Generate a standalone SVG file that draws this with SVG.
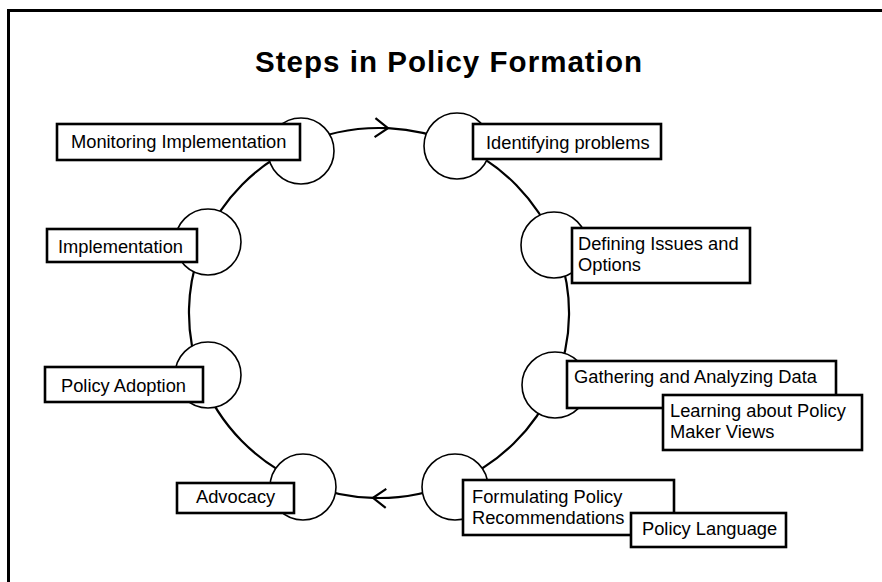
<svg xmlns="http://www.w3.org/2000/svg" width="882" height="582" viewBox="0 0 882 582">
<style>
.frame{fill:none;stroke:#000;stroke-width:3}
.title{font-family:"Liberation Sans",Arial,sans-serif;font-size:29.5px;font-weight:bold;fill:#000}
.arc{fill:none;stroke:#000;stroke-width:2.2}
.ring{fill:#fff;stroke:#000;stroke-width:1.6}
.box{fill:#fff;stroke:#000;stroke-width:2.6}
.lbl{font-family:"Liberation Sans",Arial,sans-serif;font-size:18.3px;fill:#000}
</style>
<defs>
<marker id="chev" markerUnits="userSpaceOnUse" markerWidth="30" markerHeight="30" viewBox="-20 -15 30 30" refX="0" refY="0" orient="auto" overflow="visible">
<path d="M-13,-9.5 L0,0 L-13,9.5" fill="none" stroke="#000" stroke-width="2.2"/>
</marker>
</defs>
<rect width="882" height="582" fill="#fff"/>
<path class="frame" d="M8.5,582 V10.5 H882"/>
<text class="title" x="255" y="71.5" textLength="387" lengthAdjust="spacing">Steps in Policy Formation</text>
<g id="connectors">
<path class="arc" marker-mid="url(#chev)" d="M298.4,145.5 A190,185 0 0 1 388,128.2 A190,185 0 0 1 457.5,144.5"/>
<path class="arc" d="M457.5,144.5 A190,185 0 0 1 555.5,244.4"/>
<path class="arc" d="M555.5,244.4 A190,185 0 0 1 554.2,384.7"/>
<path class="arc" d="M554.2,384.7 A190,185 0 0 1 453.4,483.2"/>
<path class="arc" marker-mid="url(#chev)" d="M453.4,483.2 A190,185 0 0 1 373,497.9 A190,185 0 0 1 304.6,483.2"/>
<path class="arc" d="M304.6,483.2 A190,185 0 0 1 200.9,377.5"/>
<path class="arc" d="M200.9,377.5 A190,185 0 0 1 204.2,240.4"/>
<path class="arc" d="M204.2,240.4 A190,185 0 0 1 298.4,145.5"/>
</g>
<g id="monitoring">
<circle class="ring" cx="301" cy="151" r="33"/>
<rect class="box" x="57" y="124" width="243" height="36"/>
<text class="lbl" x="71" y="148">Monitoring Implementation</text>
</g>
<g id="identifying">
<circle class="ring" cx="457" cy="146" r="33"/>
<rect class="box" x="473" y="124" width="188" height="35"/>
<text class="lbl" x="486" y="149">Identifying problems</text>
</g>
<g id="defining">
<circle class="ring" cx="554" cy="245" r="33"/>
<rect class="box" x="572" y="228" width="178" height="55"/>
<text class="lbl" x="578" y="250">Defining Issues and</text>
<text class="lbl" x="578" y="271">Options</text>
</g>
<g id="gathering">
<circle class="ring" cx="555" cy="385" r="33"/>
<rect class="box" x="567" y="361" width="269" height="47"/>
<text class="lbl" x="574" y="383">Gathering and Analyzing Data</text>
</g>
<g id="learning">
<rect class="box" x="663" y="395" width="199" height="55"/>
<text class="lbl" x="670" y="417">Learning about Policy</text>
<text class="lbl" x="670" y="438">Maker Views</text>
</g>
<g id="formulating">
<circle class="ring" cx="455" cy="487" r="33"/>
<rect class="box" x="463" y="480" width="211" height="55"/>
<text class="lbl" x="472" y="503">Formulating Policy</text>
<text class="lbl" x="472" y="524">Recommendations</text>
</g>
<g id="policy-language">
<rect class="box" x="631" y="513" width="155" height="34"/>
<text class="lbl" x="642" y="535">Policy Language</text>
</g>
<g id="advocacy">
<circle class="ring" cx="303" cy="487" r="33"/>
<rect class="box" x="177" y="483" width="117" height="30"/>
<text class="lbl" x="196" y="503">Advocacy</text>
</g>
<g id="adoption">
<circle class="ring" cx="208" cy="375" r="33"/>
<rect class="box" x="45" y="367" width="158" height="35"/>
<text class="lbl" x="61" y="392">Policy Adoption</text>
</g>
<g id="implementation">
<circle class="ring" cx="208" cy="242" r="33"/>
<rect class="box" x="47" y="229" width="150" height="33"/>
<text class="lbl" x="58" y="253">Implementation</text>
</g>
</svg>
